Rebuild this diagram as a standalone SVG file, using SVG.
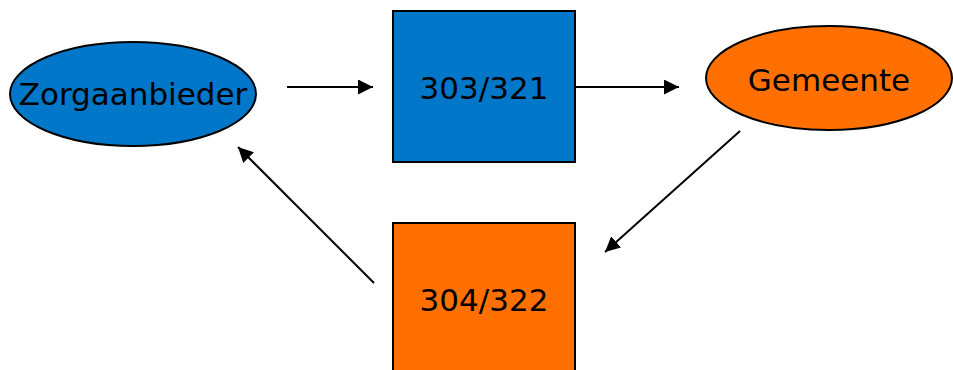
<svg xmlns="http://www.w3.org/2000/svg" width="953" height="370" viewBox="0 0 953 370">
<style>
.lbl{font-family:"DejaVu Sans",Verdana,sans-serif;font-size:31px;fill:#000;text-anchor:middle}
.blue{fill:#0077C8;stroke:#000;stroke-width:2}
.orange{fill:#FF7000;stroke:#000;stroke-width:2}
.conn{stroke:#000;stroke-width:2;fill:none;marker-end:url(#ah)}
</style>
<defs>
<marker id="ah" viewBox="0 0 10 10" refX="10" refY="5" markerWidth="7.5" markerHeight="7.5" markerUnits="strokeWidth" orient="auto">
<path d="M0,0 L10,5 L0,10 z" fill="#000"/>
</marker>
</defs>
<rect width="953" height="370" fill="#fff"/>
<g id="zorgaanbieder">
<ellipse class="blue" cx="133" cy="94" rx="123" ry="52"/>
<text class="lbl" x="133" y="105">Zorgaanbieder</text>
</g>
<g id="box303">
<rect class="blue" x="393" y="11" width="182" height="151"/>
<text class="lbl" x="484" y="99">303/321</text>
</g>
<g id="gemeente">
<ellipse class="orange" cx="829" cy="78" rx="123" ry="52"/>
<text class="lbl" x="829" y="91">Gemeente</text>
</g>
<g id="box304">
<rect class="orange" x="393" y="223" width="182" height="160"/>
<text class="lbl" x="484" y="311">304/322</text>
</g>
<g id="connectors">
<line class="conn" x1="287" y1="87" x2="373" y2="87"/>
<line class="conn" x1="575" y1="87" x2="679" y2="87"/>
<line class="conn" x1="740" y1="131" x2="605" y2="252"/>
<line class="conn" x1="374" y1="283" x2="238" y2="147"/>
</g>
</svg>
